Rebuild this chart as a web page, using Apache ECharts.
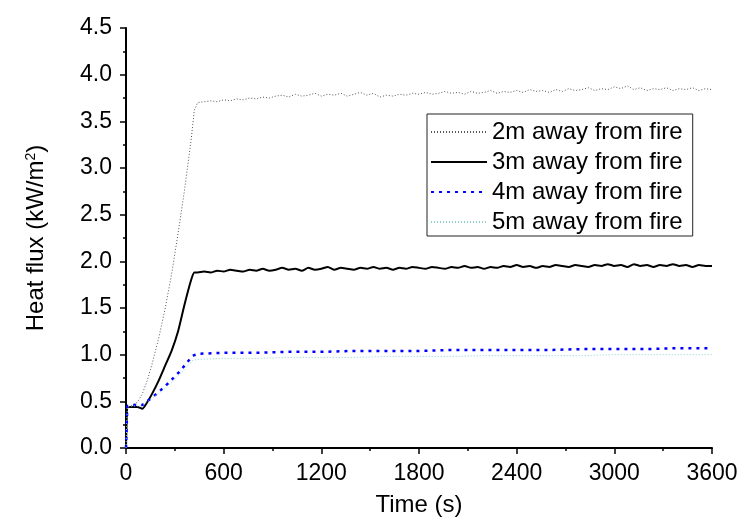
<!DOCTYPE html>
<html>
<head>
<meta charset="utf-8">
<script src="https://cdn.jsdelivr.net/npm/echarts@6/dist/echarts.min.js"></script>
<style>
html, body { margin: 0; padding: 0; background: #fff; }
#chart { width: 752px; height: 531px; }
</style>
</head>
<body>
<div id="chart"></div>
<script>
var chart = echarts.init(document.getElementById('chart'));

// time (s) for the 2m / 3m curves
var timesFine = [0, 8, 15, 40, 70, 100, 130, 160, 200, 240, 280, 320, 360, 400, 420, 440,
    480, 520, 560, 600, 640, 680, 720, 760, 800, 840, 880, 920, 960, 1000,
    1040, 1080, 1120, 1160, 1200, 1240, 1280, 1320, 1360, 1400, 1440, 1480, 1520, 1560, 1600,
    1640, 1680, 1720, 1760, 1800, 1840, 1880, 1920, 1960, 2000, 2040, 2080, 2120, 2160, 2200,
    2240, 2280, 2320, 2360, 2400, 2440, 2480, 2520, 2560, 2600, 2640, 2680, 2720, 2760, 2800,
    2840, 2880, 2920, 2960, 3000, 3040, 3080, 3120, 3160, 3200, 3240, 3280, 3320, 3360, 3400,
    3440, 3480, 3520, 3560, 3600];
var flux2m = [0, 0.44, 0.45, 0.46, 0.49, 0.58, 0.72, 0.90, 1.17, 1.49, 1.86, 2.30, 2.77, 3.30, 3.62, 3.70,
    3.71, 3.72, 3.71, 3.73, 3.72, 3.74, 3.73, 3.75, 3.74, 3.76, 3.75, 3.77, 3.78, 3.76,
    3.79, 3.77, 3.78, 3.80, 3.77, 3.79, 3.78, 3.80, 3.77, 3.79, 3.81, 3.78, 3.80, 3.76, 3.78,
    3.77, 3.79, 3.78, 3.80, 3.79, 3.81, 3.79, 3.80, 3.82, 3.80, 3.81, 3.79, 3.82, 3.80, 3.81,
    3.83, 3.80, 3.82, 3.81, 3.83, 3.81, 3.84, 3.82, 3.83, 3.81, 3.84, 3.82, 3.85, 3.83, 3.84,
    3.86, 3.83, 3.85, 3.84, 3.87, 3.85, 3.88, 3.84, 3.86, 3.83, 3.85, 3.84, 3.86, 3.83, 3.85,
    3.84, 3.86, 3.83, 3.85, 3.84];
var flux3m = [0, 0.44, 0.44, 0.44, 0.44, 0.42, 0.49, 0.58, 0.72, 0.88, 1.04, 1.25, 1.54, 1.80, 1.88, 1.88,
    1.89, 1.88, 1.90, 1.89, 1.91, 1.90, 1.89, 1.91, 1.90, 1.92, 1.90, 1.91, 1.93, 1.91,
    1.92, 1.90, 1.93, 1.91, 1.92, 1.94, 1.91, 1.93, 1.92, 1.91, 1.93, 1.92, 1.94, 1.92, 1.93,
    1.91, 1.93, 1.92, 1.94, 1.93, 1.92, 1.94, 1.93, 1.92, 1.94, 1.93, 1.95, 1.93, 1.94, 1.92,
    1.94, 1.93, 1.95, 1.94, 1.96, 1.94, 1.95, 1.93, 1.95, 1.94, 1.96, 1.95, 1.94, 1.96, 1.95,
    1.94, 1.96, 1.95, 1.97, 1.95, 1.96, 1.94, 1.97, 1.95, 1.96, 1.94, 1.96, 1.95, 1.97, 1.95,
    1.96, 1.94, 1.96, 1.95, 1.95];

// time (s) for the 4m / 5m curves
var timesCoarse = [0, 8, 15, 40, 70, 100, 160, 240, 330, 410, 450, 600, 800, 1000, 1200, 1400,
    1600, 1800, 2000, 2200, 2400, 2600, 2800, 3000, 3200, 3400, 3600];
var flux4m = [0, 0.45, 0.46, 0.46, 0.46, 0.46, 0.54, 0.66, 0.82, 0.99, 1.01, 1.02, 1.02, 1.03, 1.03, 1.04,
    1.04, 1.04, 1.05, 1.05, 1.05, 1.05, 1.06, 1.06, 1.06, 1.07, 1.07];
var flux5m = [0, 0.44, 0.45, 0.45, 0.45, 0.46, 0.53, 0.64, 0.79, 0.94, 0.95, 0.96, 0.96, 0.97, 0.97, 0.97,
    0.98, 0.98, 0.98, 0.99, 0.99, 0.99, 0.99, 1.00, 1.00, 1.00, 1.00];

var seriesNames = ['2m away from fire', '3m away from fire', '4m away from fire', '5m away from fire'];

function pairs(xs, ys) {
    return xs.map(function (x, i) { return [x, ys[i]]; });
}

var font = 'Liberation Sans, Arial, sans-serif';

var option = {
    backgroundColor: '#fff',
    animation: false,
    grid: { left: 126, right: 40, top: 28, bottom: 83 },
    legend: {
        orient: 'vertical',
        left: 427,
        top: 114,
        padding: [6, 10, 2, 3],
        itemWidth: 56,
        itemHeight: 12,
        itemGap: 6,
        borderColor: '#222',
        borderWidth: 1,
        itemStyle: { opacity: 0 },
        data: seriesNames,
        textStyle: { fontFamily: font, fontSize: 24, color: '#000' }
    },
    xAxis: {
        type: 'value',
        min: 0,
        max: 3600,
        interval: 600,
        name: 'Time (s)',
        nameLocation: 'middle',
        nameGap: 45,
        nameTextStyle: { fontFamily: font, fontSize: 24, color: '#000' },
        axisLine: { lineStyle: { color: '#000', width: 2 } },
        axisTick: { length: 6, lineStyle: { color: '#000', width: 1.5 } },
        minorTick: { show: true, splitNumber: 2, length: 3, lineStyle: { color: '#000', width: 1.5 } },
        splitLine: { show: false },
        axisLabel: {
            fontFamily: font, fontSize: 23, color: '#000', margin: 14,
            formatter: function (v) { return String(v); }
        }
    },
    yAxis: {
        type: 'value',
        min: 0,
        max: 4.5,
        interval: 0.5,
        name: 'Heat flux (kW/m{sup|2})',
        nameLocation: 'middle',
        nameGap: 78,
        nameTextStyle: {
            fontFamily: font, fontSize: 24, color: '#000',
            rich: { sup: { fontFamily: font, fontSize: 14, color: '#000', verticalAlign: 'top', padding: [0, 0, 10, 0] } }
        },
        axisLine: { show: true, lineStyle: { color: '#000', width: 2 } },
        axisTick: { show: true, length: 6, lineStyle: { color: '#000', width: 1.5 } },
        minorTick: { show: true, splitNumber: 2, length: 3, lineStyle: { color: '#000', width: 1.5 } },
        splitLine: { show: false },
        axisLabel: {
            fontFamily: font, fontSize: 23, color: '#000', margin: 14,
            formatter: function (v) { return v.toFixed(1); }
        }
    },
    series: [
        {
            name: seriesNames[0], type: 'line', symbol: 'none',
            data: pairs(timesFine, flux2m),
            lineStyle: { color: '#555', width: 1, type: [1, 2] },
            itemStyle: { color: '#555' }
        },
        {
            name: seriesNames[1], type: 'line', symbol: 'none', smooth: 0.2,
            data: pairs(timesFine, flux3m),
            lineStyle: { color: '#000', width: 2, type: 'solid' },
            itemStyle: { color: '#000' }
        },
        {
            name: seriesNames[2], type: 'line', symbol: 'none',
            data: pairs(timesCoarse, flux4m),
            lineStyle: { color: '#0000ff', width: 2.5, type: [3, 5] },
            itemStyle: { color: '#0000ff' }
        },
        {
            name: seriesNames[3], type: 'line', symbol: 'none',
            data: pairs(timesCoarse, flux5m),
            lineStyle: { color: '#8ccfcf', width: 1, type: [1, 2] },
            itemStyle: { color: '#8ccfcf' }
        }
    ]
};
chart.setOption(option);
</script>
</body>
</html>
